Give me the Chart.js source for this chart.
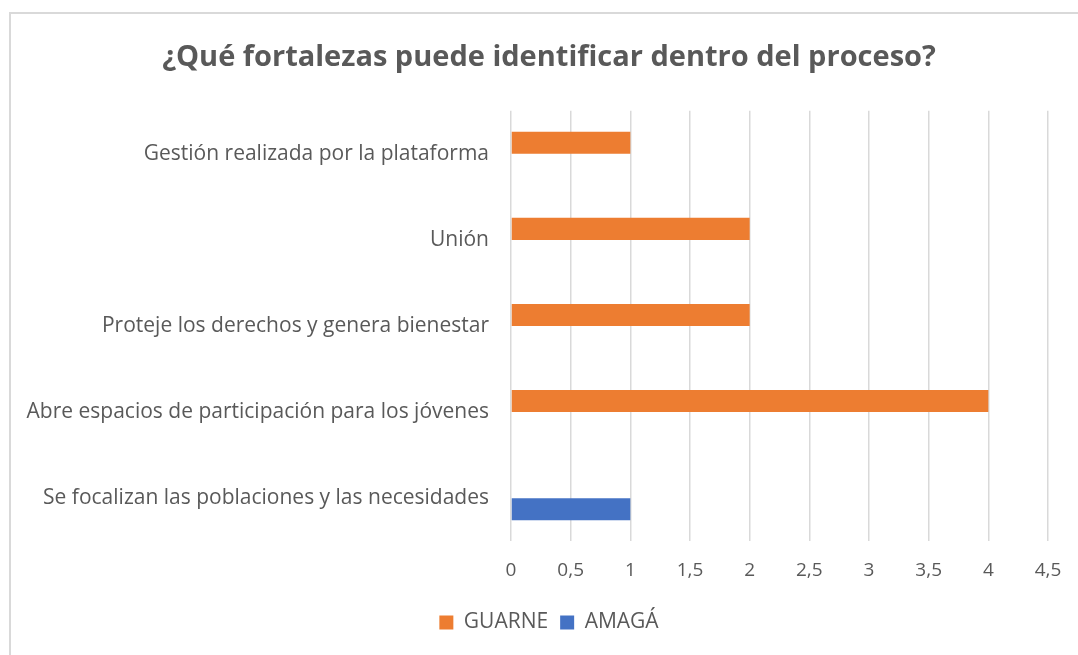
<!DOCTYPE html>
<html>
<head>
<meta charset="utf-8">
<script src="https://cdn.jsdelivr.net/npm/chart.js@4/dist/chart.umd.min.js"></script>
<style>
  html, body { margin: 0; padding: 0; background: #fff; overflow: hidden; }
  #frame { position: absolute; left: 9px; top: 12px; width: 1080px; height: 660px; border: 2px solid #D9D9D9; box-sizing: border-box; }
  #wrap { position: absolute; left: 0; top: 0; width: 1078px; height: 655px; }
</style>
</head>
<body>
<div id="frame"></div>
<div id="wrap"><canvas id="chart"></canvas></div>
<script>
const categories = [
    'Gestión realizada por la plataforma',
    'Unión',
    'Proteje los derechos y genera bienestar',
    'Abre espacios de participación para los jóvenes',
    'Se focalizan las poblaciones y las necesidades'
];
const guarne = [1, 2, 2, 4, 0];
const amaga = [0, 0, 0, 0, 1];
const xTickLabels = ['0', '0,5', '1', '1,5', '2', '2,5', '3', '3,5', '4', '4,5'];

const textColor = '#595959';
const fontFamily = '"Open Sans", Lato, sans-serif';

const ctx = document.getElementById('chart').getContext('2d');
const myChart = new Chart(ctx, {
    type: 'bar',
    data: {
        labels: categories,
        datasets: [
            {
                label: 'GUARNE',
                data: guarne,
                backgroundColor: '#ED7D31',
                borderWidth: 0,
            },
            {
                label: 'AMAGÁ',
                data: amaga,
                backgroundColor: '#4472C4',
                borderWidth: 0,
            },
        ],
    },
    options: {
        indexAxis: 'y',
        responsive: true,
        maintainAspectRatio: false,
        animation: false,
        datasets: {
            bar: { categoryPercentage: 0.514, barPercentage: 1 }
        },
        layout: { padding: { left: 20, right: 0, top: 0, bottom: 12 } },
        plugins: {
            title: {
                display: true,
                text: '¿Qué fortalezas puede identificar dentro del proceso?',
                color: textColor,
                font: { family: fontFamily, size: 29, weight: 'bold' },
                padding: { top: 40, bottom: 36 },
            },
            legend: {
                position: 'bottom',
                labels: {
                    color: textColor,
                    font: { family: fontFamily, size: 21 },
                    boxWidth: 14,
                    boxHeight: 14,
                    padding: 12,
                },
            },
            tooltip: { enabled: false },
        },
        scales: {
            x: {
                min: 0,
                max: 4.5,
                ticks: {
                    stepSize: 0.5,
                    color: textColor,
                    font: { family: fontFamily, size: 19 },
                    padding: 18,
                    callback: (v, i) => xTickLabels[i],
                },
                grid: { color: '#D9D9D9', lineWidth: 1.5, drawTicks: false },
                border: { display: false },
                afterFit: (scale) => { scale.paddingRight = 30; },
            },
            y: {
                ticks: {
                    color: textColor,
                    font: { family: fontFamily, size: 21 },
                    padding: 14,
                },
                grid: { display: false },
                border: { display: false },
                afterFit: (scale) => { scale.width = 491; },
            },
        },
    },
});
</script>
</body>
</html>
